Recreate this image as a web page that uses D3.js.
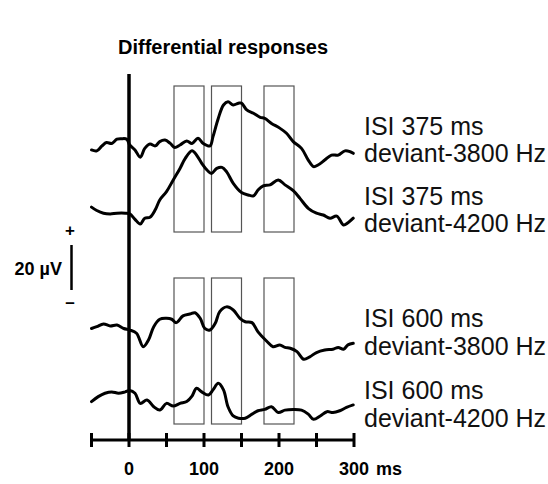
<!DOCTYPE html>
<html><head><meta charset="utf-8">
<script src="https://cdn.jsdelivr.net/npm/d3@7"></script>
<style>html,body{margin:0;padding:0;background:#fff;}svg{display:block;font-family:"Liberation Sans",Arial,sans-serif;}</style>
</head><body>
<script>
// ---- data ----
const title = "Differential responses";
const traceNames = ["ISI 375 ms|deviant-3800 Hz","ISI 375 ms|deviant-4200 Hz","ISI 600 ms|deviant-3800 Hz","ISI 600 ms|deviant-4200 Hz"];
const t1 = [-50,-43,-36,-30,-23,-16,-10,-3,1,8,15,21,28,35,41,48,55,61,68,77,84,92,99,108,112,119,126,132,139,146,150,157,166,175,181,190,201,210,219,230,239,246,252,261,270,279,288,295,299];
const v1 = [-2.2,-2.6,-0.4,1.1,0.7,2.6,2.8,2.6,0,-2.2,-5.4,-1.5,0.4,-0.4,1.5,2.2,0.7,-1.1,0,1.8,0.7,3.0,0.7,-0.4,3.7,11.8,17.8,19.2,17.8,18.6,18.6,15.6,14.1,12.3,11.8,9.6,7.5,5.2,1.5,-1.5,-6.7,-9.6,-8.9,-6.7,-4.5,-4.5,-2.6,-3.0,-3.7];
const t2 = [-50,-43,-34,-25,-16,-5,1,8,15,21,28,35,41,50,59,68,75,84,90,97,104,110,117,124,130,139,150,159,166,172,179,188,199,208,219,228,239,250,259,268,277,286,292,299];
const v2 = [2.6,1.1,-0.1,-0.4,-0.1,-0.1,-0.4,-2.8,-4.9,-2.3,-1.9,1.4,5.8,9.5,14.7,19.8,24.3,27.7,25.8,22.1,19.1,17.6,19.8,20.3,18.4,13.2,9.1,8.0,7.6,10.2,12.1,12.5,14.7,12.5,9.9,6.5,2.1,-0.1,-0.9,-2.3,-1.4,-5.3,-4.3,-2.3];
const t3 = [-50,-43,-34,-25,-16,-7,1,10,19,26,33,41,50,57,63,72,81,88,95,101,108,115,121,130,139,148,155,164,172,184,192,201,208,215,224,233,241,250,261,272,279,286,292,299];
const v3 = [-1.1,-0.3,0.9,0,0.4,-1.1,-1.8,-3.2,-9.2,-6.2,-0.3,3.0,3.4,3.0,1.5,4.5,5.3,5.9,3.4,-1.1,-1.8,1.2,6.4,8.5,7.1,3.4,1.9,1.5,-2.6,-6.9,-9.2,-8.4,-9.5,-9.9,-11.4,-14.8,-13.7,-11.8,-10.7,-10.3,-9.5,-10.3,-8.4,-7.7];
const t4 = [-50,-41,-32,-23,-14,-5,1,8,15,24,33,41,50,59,68,77,84,90,97,106,112,119,126,132,139,146,155,164,172,181,190,199,208,219,230,239,246,255,264,272,281,290,299];
const v4 = [-3.8,-1.6,-0.1,0.5,-0.1,0.5,1.1,-0.1,-4.6,-3.1,-6.1,-7.6,-4.6,-5.8,-4.6,-3.8,-1.4,2.1,0.5,-0.9,1.4,4.3,1.4,-6.1,-10.2,-11.2,-11.2,-9.4,-7.9,-7.3,-6.1,-8.7,-7.6,-7.3,-7.6,-9.4,-11.7,-10.2,-8.3,-8.7,-7.9,-6.4,-5.3];
const windowStarts = [60,110,180];
const windowEnds = [100,150,220];
const xTicks = [-50,0,50,100,150,200,250,300];
const xTickLabels = [0,100,200,300];
const scaleBarUV = 20;

// ---- layout ----
const W = 548, H = 484;
const svg = d3.select("body").append("svg").attr("width",W).attr("height",H);
const x = d3.scaleLinear().domain([0,300]).range([129,354]);
const pxPerUV = 2.25;
const baselines = [145,213,326,393];
const traceT = [t1,t2,t3,t4], traceV = [v1,v2,v3,v4];
const axisY = 440;

svg.append("text").attr("x",118).attr("y",54).attr("font-size",20).attr("font-weight","bold").text(title);

// windows
const groupsBox = [[86,232],[278,424]];
groupsBox.forEach(([top,bot])=>{
  windowStarts.forEach((s,i)=>{
    svg.append("rect").attr("x",x(s)).attr("y",top).attr("width",x(windowEnds[i])-x(s)).attr("height",bot-top)
      .attr("fill","none").attr("stroke","#555").attr("stroke-width",1.2);
  });
});

// zero line
svg.append("line").attr("x1",x(0)).attr("x2",x(0)).attr("y1",74).attr("y2",axisY).attr("stroke","#000").attr("stroke-width",3.5);

// traces
traceT.forEach((ts,k)=>{
  const y = d3.scaleLinear().domain([0,scaleBarUV]).range([baselines[k], baselines[k]-scaleBarUV*pxPerUV]);
  const line = d3.line().x((d,i)=>x(ts[i])).y(d=>y(d)).curve(d3.curveCatmullRom.alpha(0.5));
  svg.append("path").attr("d",line(traceV[k])).attr("fill","none").attr("stroke","#000").attr("stroke-width",3).attr("stroke-linejoin","round").attr("stroke-linecap","round");
});

// labels
const labelBase = [[135,162],[205,232],[327,355],[399,427]];
traceNames.forEach((n,k)=>{
  const parts = n.split("|");
  parts.forEach((p,j)=>{
    svg.append("text").attr("x",364).attr("y",labelBase[k][j]).attr("font-size",25).attr("fill","#111").text(p);
  });
});

// x axis
const ax = svg.append("g").attr("transform",`translate(0,${axisY})`);
ax.append("line").attr("x1",x(-50)).attr("x2",x(300)).attr("stroke","#000").attr("stroke-width",3);
ax.selectAll("line.tk").data(xTicks).join("line").attr("class","tk")
  .attr("x1",d=>x(d)).attr("x2",d=>x(d)).attr("y1",-7).attr("y2",7).attr("stroke","#000").attr("stroke-width",3);
ax.selectAll("text.tl").data(xTickLabels).join("text").attr("class","tl")
  .attr("x",d=>x(d)).attr("y",35).attr("text-anchor","middle").attr("font-size",18).attr("font-weight","bold").text(d=>d);
ax.append("text").attr("x",x(300)+22).attr("y",35).attr("font-size",18).attr("font-weight","bold").text("ms");

// scale bar
const sb = d3.scaleLinear().domain([0,scaleBarUV]).range([290,290-scaleBarUV*pxPerUV]);
svg.append("line").attr("x1",71.5).attr("x2",71.5).attr("y1",sb(0)).attr("y2",sb(scaleBarUV)).attr("stroke","#000").attr("stroke-width",2.5);
svg.append("text").attr("x",70).attr("y",236).attr("text-anchor","middle").attr("font-size",17).attr("font-weight","bold").text("+");
svg.append("text").attr("x",70).attr("y",308).attr("text-anchor","middle").attr("font-size",17).attr("font-weight","bold").text("–");
svg.append("text").attr("x",62).attr("y",275).attr("text-anchor","end").attr("font-size",18).attr("font-weight","bold").text(scaleBarUV+" µV");
</script>
</body></html>
